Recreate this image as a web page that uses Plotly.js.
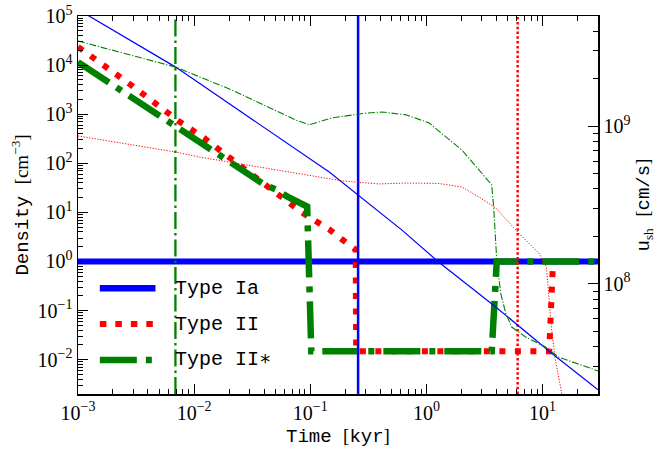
<!DOCTYPE html>
<html>
<head>
<meta charset="utf-8">
<script src="https://cdn.plot.ly/plotly-3.0.1.min.js"></script>
<style>html,body{margin:0;padding:0;background:#fff;}</style>
</head>
<body>
<div id="chart" style="width:665px;height:454px;"></div>
<script>
// ---------- data (time in kyr) ----------
// Density (left axis, cm^-3)
const iaTime = [0.001, 30];
const iaDensity = [1, 1];

const iiTime = [0.001, 0.00285, 0.0075, 0.0121, 0.0202, 0.0256, 0.0419, 0.0531, 0.0687, 0.085, 0.113, 0.146, 0.188, 0.234, 0.246, 0.248, 11.4, 12.3];
const iiDensity = [23500, 3960, 700, 331, 130, 85, 36.7, 24, 15.1, 9.9, 6.5, 4.47, 2.8, 1.93, 1.75, 0.0148, 0.0148, 1.0];

const iisTime = [0.001, 0.00188, 0.00506, 0.0065, 0.0111, 0.0176, 0.0222, 0.0403, 0.0509, 0.0635, 0.094, 0.102, 3.65, 4.03, 30];
const iisDensity = [11500, 4300, 885, 600, 275, 130, 94, 36.7, 29, 21, 13.1, 0.0148, 0.0148, 1.0, 1.0];

// Shock velocity (right axis, cm/s)
const iaVelTime = [0.001, 0.00693, 0.1456, 0.258, 0.616, 1.28, 3.95, 11.9, 29.1, 30];
const iaVel = [5.5e9, 2.37e9, 5.12e8, 3.66e8, 2.19e8, 1.37e8, 7.13e7, 3.64e7, 2.18e7, 2.13e7];

const iiVelTime = [0.001, 0.0069, 0.0111, 0.1456, 0.188, 0.391, 0.667, 1.28, 2.02, 2.82, 3.95, 6.22, 9.25, 10.8, 11.3, 11.9, 12.9, 14.6, 15.3];
const iiVel = [8.67e8, 6.86e8, 6.37e8, 4.62e8, 4.5e8, 4.3e8, 4.36e8, 4.33e8, 4.11e8, 3.56e8, 3.03e8, 2.1e8, 1.57e8, 1.28e8, 8.7e7, 5.3e7, 3.28e7, 2.03e7, 1.3e7];

const iisVelTime = [0.001, 0.00693, 0.0214, 0.0318, 0.0759, 0.098, 0.1545, 0.303, 0.415, 0.667, 1.05, 2.02, 3.65, 3.79, 4.03, 4.36, 4.81, 5.42, 7.14, 10.6, 13.7, 28.5, 30];
const iisVel = [3.47e9, 2.37e9, 1.69e9, 1.47e9, 1.09e9, 1.02e9, 1.13e9, 1.21e9, 1.23e9, 1.18e9, 1.05e9, 7.06e8, 4.24e8, 3.07e8, 1.42e8, 8.73e7, 6.53e7, 5.32e7, 4.6e7, 3.97e7, 3.43e7, 2.84e7, 2.8e7];

// Characteristic times (vertical lines)
const vlineTimes = { ia: 0.258, ii: 6.1, iis: 0.0069 };

// Axis limits and tick labels
const xLimits = [0.001, 30];
const yLimits = [0.002, 1e5];
const y2Limits = [2e7, 5e9];
const xTickVals = [1e-3, 1e-2, 1e-1, 1, 10];
const xTickText = ['10<sup>−3</sup>', '10<sup>−2</sup>', '10<sup>−1</sup>', '10<sup>0</sup>', '10<sup>1</sup>'];
const yTickVals = [1e-2, 1e-1, 1, 10, 100, 1e3, 1e4, 1e5];
const yTickText = ['10<sup>−2</sup>', '10<sup>−1</sup>', '10<sup>0</sup>', '10<sup>1</sup>', '10<sup>2</sup>', '10<sup>3</sup>', '10<sup>4</sup>', '10<sup>5</sup>'];
const y2TickVals = [1e8, 1e9];
const y2TickText = ['10<sup>8</sup>', '10<sup>9</sup>'];
const legendLabels = ['Type Ia', 'Type II', 'Type II∗'];

// ---------- helpers ----------
function minorLog(lo, hi) {
  const out = [];
  for (let e = Math.floor(Math.log10(lo)); e <= Math.ceil(Math.log10(hi)); e++) {
    for (let m = 2; m <= 9; m++) {
      const v = m * Math.pow(10, e);
      if (v > lo * 1.0001 && v < hi * 0.9999) out.push(v);
    }
  }
  return out;
}

const BLUE = '#0000ff', RED = '#ff0000', GREEN = '#008000';
const MONO = 'Liberation Mono, DejaVu Sans Mono, monospace';
const SERIF = 'Liberation Serif, DejaVu Serif, serif';

const traces = [
  {x: iaTime, y: iaDensity, mode: 'lines', line: {color: BLUE, width: 6}, yaxis: 'y', showlegend: false},
  {x: iiTime, y: iiDensity, mode: 'lines', line: {color: RED, width: 6, dash: '6px,9.5px'}, yaxis: 'y', showlegend: false},
  {x: iisTime, y: iisDensity, mode: 'lines', line: {color: GREEN, width: 6.5, dash: '37px,9px,6px,9px'}, yaxis: 'y', showlegend: false},
  {x: [vlineTimes.ia, vlineTimes.ia], y: yLimits, mode: 'lines', line: {color: BLUE, width: 2.5}, yaxis: 'y', showlegend: false},
  {x: [vlineTimes.ii, vlineTimes.ii], y: yLimits, mode: 'lines', line: {color: RED, width: 2.5, dash: '2.5px,2.3px'}, yaxis: 'y', showlegend: false},
  {x: [vlineTimes.iis, vlineTimes.iis], y: yLimits, mode: 'lines', line: {color: GREEN, width: 2.3, dash: '17px,4px,2.5px,4px'}, yaxis: 'y', showlegend: false},
  {x: iaVelTime, y: iaVel, mode: 'lines', line: {color: BLUE, width: 1.2}, yaxis: 'y2', showlegend: false},
  {x: iiVelTime, y: iiVel, mode: 'lines', line: {color: RED, width: 1, dash: '1.2px,1.6px'}, yaxis: 'y2', showlegend: false},
  {x: iisVelTime, y: iisVel, mode: 'lines', line: {color: GREEN, width: 1.1, dash: '7px,1.8px,1.2px,1.8px'}, yaxis: 'y2', showlegend: false}
];

// manual legend (no frame), samples as long as the reference
const legendY = [0.280, 0.185, 0.090];
const legendStyles = [
  {color: BLUE, width: 6.5, dash: 'solid'},
  {color: RED, width: 6, dash: '6.5px,9px'},
  {color: GREEN, width: 6.5, dash: '37px,9px,6px,9px'}
];
const shapes = legendLabels.map((_, i) => ({
  type: 'line', xref: 'paper', yref: 'paper',
  x0: 0.042, x1: 0.149, y0: legendY[i], y1: legendY[i],
  line: legendStyles[i]
}));
const annotations = legendLabels.map((lab, i) => ({
  xref: 'paper', yref: 'paper', x: 0.183, y: legendY[i],
  xanchor: 'left', yanchor: 'middle', text: lab, showarrow: false,
  font: {family: MONO, size: 20, color: '#000'}
}));

const axisCommon = {
  type: 'log', showgrid: false, zeroline: false,
  ticks: 'inside', ticklen: 10, tickwidth: 1, tickcolor: '#000',
  showline: true, linecolor: '#000', linewidth: 1.5,
  tickmode: 'array', tickfont: {family: SERIF, size: 20, color: '#000'}
};

const layout = {
  width: 665, height: 454,
  margin: {l: 78, r: 67, t: 16, b: 60},
  paper_bgcolor: '#fff', plot_bgcolor: '#fff',
  showlegend: false,
  xaxis: Object.assign({}, axisCommon, {
    range: [Math.log10(xLimits[0]), Math.log10(xLimits[1])],
    tickvals: xTickVals, ticktext: xTickText, mirror: 'ticks',
    minor: {tickmode: 'array', tickvals: minorLog(xLimits[0], xLimits[1]), ticks: 'inside', ticklen: 5, tickwidth: 1, tickcolor: '#000', showgrid: false},
    title: {text: 'Time <span style="font-family:Liberation Serif">[</span>kyr<span style="font-family:Liberation Serif">]</span>', font: {family: MONO, size: 19, color: '#000'}, standoff: 6}
  }),
  yaxis: Object.assign({}, axisCommon, {
    range: [Math.log10(yLimits[0]), Math.log10(yLimits[1])],
    tickvals: yTickVals, ticktext: yTickText,
    minor: {tickmode: 'array', tickvals: minorLog(yLimits[0], yLimits[1]), ticks: 'inside', ticklen: 5, tickwidth: 1, tickcolor: '#000', showgrid: false},
    title: {text: 'Density <span style="font-family:Liberation Serif">[cm<sup>−3</sup>]</span>', font: {family: MONO, size: 19, color: '#000'}, standoff: 4}
  }),
  yaxis2: Object.assign({}, axisCommon, {
    overlaying: 'y', side: 'right',
    range: [Math.log10(y2Limits[0]), Math.log10(y2Limits[1])],
    tickvals: y2TickVals, ticktext: y2TickText,
    minor: {tickmode: 'array', tickvals: minorLog(y2Limits[0], y2Limits[1]), ticks: 'inside', ticklen: 5, tickwidth: 1, tickcolor: '#000', showgrid: false},
    title: {text: 'u<sub><span style="font-family:Liberation Serif">sh</span></sub> <span style="font-family:Liberation Serif">[</span>cm/s<span style="font-family:Liberation Serif">]</span>', font: {family: MONO, size: 19, color: '#000'}, standoff: 6}
  }),
  shapes: shapes,
  annotations: annotations
};

Plotly.newPlot('chart', traces, layout, {displayModeBar: false, staticPlot: true});
</script>
</body>
</html>
